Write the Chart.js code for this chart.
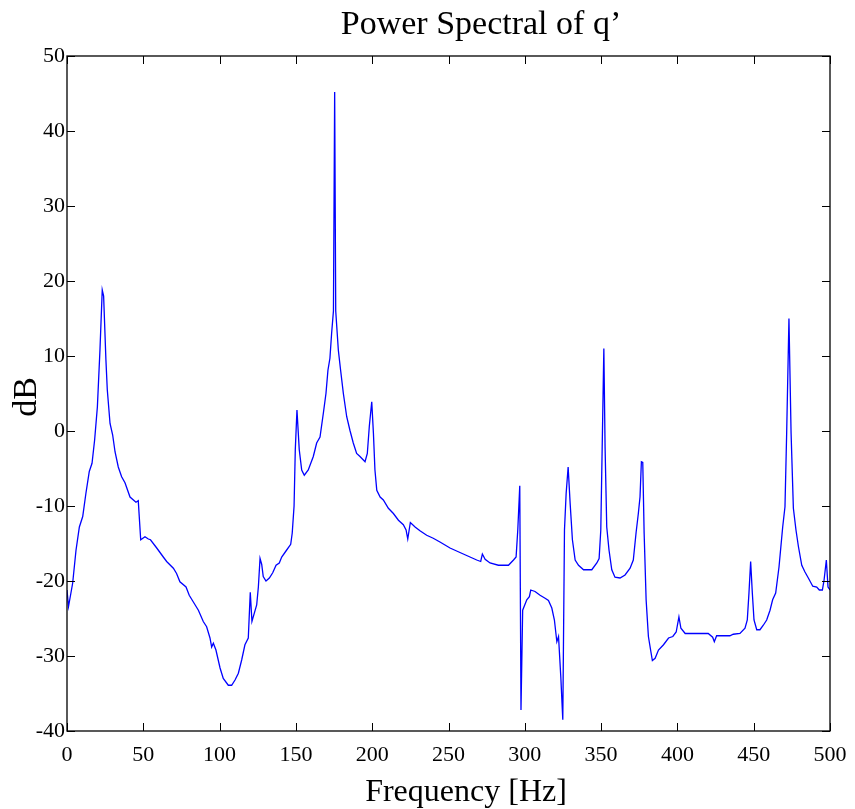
<!DOCTYPE html>
<html>
<head>
<meta charset="utf-8">
<script src="https://cdn.jsdelivr.net/npm/chart.js@4.4.1/dist/chart.umd.min.js"></script>
<style>
  html, body { margin: 0; padding: 0; background: #fff; }
  #wrap { width: 855px; height: 809px; }
</style>
</head>
<body>
<div id="wrap"><canvas id="psd" width="855" height="809"></canvas></div>
<script>
// frecuencias [Hz]
const freqHz = [
  0, 1, 3.7, 5.9, 8.1, 10.3, 12.4, 14.6, 16.4, 18.1, 19.9, 21.6, 23.1, 24.0, 25.5, 26.4, 28.2, 29.9,
  31.5, 33.6, 35.8, 38.0, 41.3, 45.2, 46.7, 48.3, 51.1, 53.3, 54.7, 58.8, 63.1, 65.3, 69.7, 71.8,
  74.0, 78.0, 80.1, 82.8, 86.1, 89.3, 91.5, 93.7, 94.8, 95.9, 97.6, 100.3, 102.4, 105.7, 107.9,
  110.1, 112.3, 114.5, 116.6, 118.8, 120.1, 121.2, 124.3, 125.4, 126.5, 127.6, 128.6, 130.4, 132.6,
  134.8, 137.0, 139.1, 140.7, 143.5, 146.6, 147.6, 148.8, 149.6, 150.7, 152.2, 153.8, 155.5, 158.1,
  161.4, 163.6, 165.8, 168.0, 169.7, 171.0, 172.3, 173.4, 174.6, 175.4, 176.1, 177.8, 179.3, 181.1,
  183.3, 185.4, 187.6, 189.8, 192.0, 195.3, 196.8, 198.1, 199.7, 200.8, 201.8, 203.0, 205.2, 207.3,
  210.6, 213.9, 217.2, 220.4, 222.2, 223.3, 225.0, 228.1, 231.3, 235.7, 240.0, 244.4, 251.0, 257.5,
  264.1, 268.5, 271.1, 272.2, 274.0, 277.2, 282.7, 289.3, 292.6, 294.3, 295.4, 296.7, 297.5, 298.6,
  301.3, 303.0, 303.9, 306.7, 310.0, 313.3, 315.5, 317.7, 319.4, 321.0, 322.1, 323.6, 324.9, 326.0,
  327.1, 328.4, 329.7, 331.2, 333.0, 335.2, 338.5, 343.9, 347.2, 348.7, 349.8, 350.9, 351.8, 352.6,
  353.7, 355.2, 357.0, 359.1, 362.4, 365.7, 369.0, 371.1, 372.9, 374.4, 375.5, 376.4, 377.3, 378.2,
  379.5, 381.0, 382.6, 383.6, 385.4, 387.6, 390.9, 394.2, 397.0, 399.2, 401.0, 402.3, 405.1, 412.7,
  420.2, 423.1, 424.2, 425.7, 434.4, 436.6, 441.0, 444.3, 445.8, 446.9, 448.0, 449.1, 450.2, 452.0,
  454.1, 456.3, 458.5, 460.7, 462.4, 464.4, 466.6, 469.0, 470.5, 471.6, 473.1, 474.5, 476.0, 477.7,
  479.3, 481.5, 483.6, 485.8, 488.7, 491.3, 493.0, 495.0, 496.1, 497.6, 498.7, 500.0
];

// densidad espectral [dB]
const potenciaDb = [
  -21.2, -23.4, -20.3, -15.9, -12.8, -11.4, -8.3, -5.4, -4.3, -1.2, 3.2, 10.8, 18.8, 18.0, 9.5, 5.5, 1.0, -0.5,
  -2.8, -4.8, -6.1, -6.9, -8.8, -9.5, -9.3, -14.5, -14.1, -14.4, -14.5, -15.6, -16.8, -17.4, -18.3, -19.0,
  -20.1, -20.8, -21.9, -22.8, -23.9, -25.4, -26.1, -27.6, -28.8, -28.3, -29.2, -31.6, -33.0, -33.9, -33.9,
  -33.2, -32.3, -30.5, -28.5, -27.6, -21.5, -25.4, -23.2, -20.8, -17.0, -17.8, -19.4, -20.0, -19.6,
  -18.9, -17.9, -17.6, -16.8, -16.0, -15.1, -13.6, -10.0, -2.5, 2.8, -2.5, -5.2, -5.9, -5.2,
  -3.4, -1.6, -0.8, 2.4, 5.0, 8.1, 9.7, 13.0, 16.0, 45.2, 16.0, 10.8, 8.1, 5.0,
  1.9, 0.1, -1.6, -3.0, -3.4, -4.1, -3.0, 0.6, 3.9, -0.3, -5.2, -7.9, -8.8, -9.2,
  -10.3, -11.0, -11.9, -12.5, -13.2, -14.4, -12.2, -12.8, -13.3, -13.9, -14.3, -14.8, -15.6, -16.2,
  -16.8, -17.2, -17.4, -16.4, -17.1, -17.6, -17.9, -17.9, -17.2, -16.8, -13.2, -7.3, -37.2, -23.9,
  -22.5, -22.1, -21.2, -21.4, -21.9, -22.3, -22.6, -23.6, -25.2, -28.1, -27.4, -32.8, -38.5, -13.2,
  -8.3, -4.8, -9.6, -14.5, -17.2, -17.9, -18.5, -18.5, -17.6, -17.0, -13.2, 0.1, 11.0, -2.1,
  -12.8, -15.9, -18.5, -19.5, -19.6, -19.2, -18.3, -17.2, -13.6, -11.0, -8.8, -4.1, -4.2, -13.6,
  -22.5, -27.4, -29.4, -30.6, -30.3, -29.2, -28.5, -27.6, -27.4, -26.8, -24.8, -26.3, -27.0, -27.0,
  -27.0, -27.5, -28.1, -27.3, -27.3, -27.1, -27.0, -26.3, -25.2, -21.6, -17.4, -21.6, -25.2, -26.5,
  -26.5, -25.9, -25.2, -23.9, -22.5, -21.6, -18.1, -12.8, -10.1, -0.3, 15.0, -0.3, -10.3, -13.2,
  -15.4, -17.9, -18.8, -19.6, -20.7, -20.8, -21.2, -21.2, -19.9, -17.2, -20.8, -21.2
];

const titulo = "Power Spectral of q\u2019";
const tituloX = "Frequency [Hz]";
const tituloY = "dB";

const serif = "'Liberation Serif', 'Times New Roman', serif";

// caja estilo matlab con marcas hacia adentro
const cajaMatlab = {
  id: 'cajaMatlab',
  afterDraw(chart) {
    const ctx = chart.ctx;
    const a = chart.chartArea;
    const sx = chart.scales.x;
    const sy = chart.scales.y;
    const largo = 8;
    ctx.save();
    ctx.strokeStyle = '#000';
    ctx.lineWidth = 1.3;
    ctx.strokeRect(a.left, a.top, a.right - a.left, a.bottom - a.top);
    ctx.lineWidth = 1;
    ctx.beginPath();
    sx.ticks.forEach(t => {
      const px = Math.round(sx.getPixelForValue(t.value)) + 0.5;
      ctx.moveTo(px, a.bottom); ctx.lineTo(px, a.bottom - largo);
      ctx.moveTo(px, a.top); ctx.lineTo(px, a.top + largo);
    });
    sy.ticks.forEach(t => {
      const py = Math.round(sy.getPixelForValue(t.value)) + 0.5;
      ctx.moveTo(a.left, py); ctx.lineTo(a.left + largo, py);
      ctx.moveTo(a.right, py); ctx.lineTo(a.right - largo, py);
    });
    ctx.stroke();

    // textos
    ctx.fillStyle = '#000';
    ctx.textAlign = 'center';
    ctx.textBaseline = 'alphabetic';
    ctx.font = '34px ' + serif;
    ctx.fillText(titulo, 481, 34);
    ctx.font = '32px ' + serif;
    ctx.fillText(tituloX, 466, 801);
    ctx.translate(36, 397);
    ctx.rotate(-Math.PI / 2);
    ctx.font = '34px ' + serif;
    ctx.fillText(tituloY, 0, 0);
    ctx.restore();
  }
};

new Chart(document.getElementById('psd').getContext('2d'), {
  type: 'line',
  data: {
    datasets: [{
      label: 'PSD',
      data: freqHz.map((f, i) => ({ x: f, y: potenciaDb[i] })),
      borderColor: '#0000FF',
      borderWidth: 1.3,
      pointRadius: 0,
      tension: 0,
      fill: false
    }]
  },
  options: {
    responsive: false,
    animation: false,
    layout: { padding: { top: 56, right: 25, left: 0, bottom: 0 } },
    plugins: {
      legend: { display: false },
      title: { display: false },
      tooltip: { enabled: false }
    },
    scales: {
      x: {
        type: 'linear',
        min: 0,
        max: 500,
        grid: { display: false, drawTicks: false },
        border: { display: false },
        ticks: {
          stepSize: 50,
          color: '#000',
          padding: 11,
          maxRotation: 0,
          font: { family: serif, size: 22 }
        },
        afterFit: s => { s.height = 78; s.paddingLeft = 0; s.paddingRight = 0; }
      },
      y: {
        min: -40,
        max: 50,
        grid: { display: false, drawTicks: false },
        border: { display: false },
        ticks: {
          stepSize: 10,
          color: '#000',
          padding: 2,
          font: { family: serif, size: 22 }
        },
        afterFit: s => { s.width = 67; s.paddingTop = 0; s.paddingBottom = 0; }
      }
    }
  },
  plugins: [cajaMatlab]
});
</script>
</body>
</html>
